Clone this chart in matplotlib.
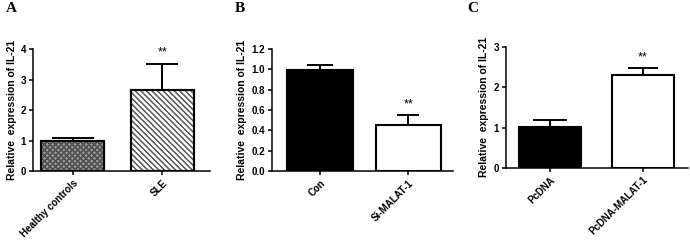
import matplotlib
matplotlib.use("Agg")
import matplotlib.pyplot as plt

plt.rcParams['font.family'] = ['Liberation Sans', 'DejaVu Sans']
plt.rcParams['hatch.linewidth'] = 0.8

# Panel A
a_cats = ["Healthy controls", "SLE"]
a_vals = [0.97, 2.67]
a_err = [0.11, 0.85]
a_ticks = [0, 1, 2, 3, 4]
# Panel B
b_cats = ["Con", "Si-MALAT-1"]
b_vals = [0.99, 0.45]
b_err = [0.05, 0.10]
b_ticks = [0.0, 0.2, 0.4, 0.6, 0.8, 1.0, 1.2]
# Panel C
c_cats = ["PcDNA", "PcDNA-MALAT-1"]
c_vals = [1.02, 2.30]
c_err = [0.18, 0.17]
c_ticks = [0, 1, 2, 3]

fig = plt.figure(figsize=(6.9, 2.43), dpi=100)

def panel(rect, cats, vals, errs, ticks, ylim, xlim, width, faces, hatches, hcolors,
          caps, fmt, letter, lpos):
    ax = fig.add_axes(rect)
    x = list(range(len(cats)))
    for i in x:
        ax.bar(i, vals[i], width=width, color=faces[i], edgecolor='black',
               linewidth=1.5, hatch=hatches[i], zorder=2)
        if hatches[i]:
            ax.bar(i, vals[i], width=width, facecolor='none', edgecolor=hcolors[i],
                   linewidth=0, hatch=hatches[i], zorder=2)
            ax.bar(i, vals[i], width=width, facecolor='none', edgecolor='black',
                   linewidth=1.5, zorder=3)
        ax.errorbar(i, vals[i], yerr=[[0], [errs[i]]], fmt='none', ecolor='black',
                    elinewidth=1.4, capsize=caps[i], capthick=1.4, zorder=1)
    ax.text(1, vals[1] + errs[1] + (ylim[1] - ylim[0]) * 0.04, "**", ha='center',
            va='bottom', fontsize=9)
    ax.set_xlim(*xlim)
    ax.set_ylim(*ylim)
    ax.set_yticks(ticks)
    ax.set_yticklabels([fmt.format(t) for t in ticks], fontsize=7, fontweight='bold')
    ax.set_xticks(x)
    ax.set_xticklabels(cats, rotation=45, ha='right', rotation_mode='anchor',
                       fontsize=7, fontweight='bold')
    ax.tick_params(axis='both', direction='out', length=3, width=1.1, pad=2)
    for s in ['top', 'right']:
        ax.spines[s].set_visible(False)
    for s in ['left', 'bottom']:
        ax.spines[s].set_linewidth(1.1)
    ax.set_ylabel("Relative  expression of IL-21", fontsize=7.5, fontweight='bold', labelpad=3)
    fig.text(lpos[0], lpos[1], letter, fontsize=11, fontweight='bold',
             family='Liberation Serif', ha='left', va='top')
    return ax

panel([0.048, 0.296, 0.256, 0.502], a_cats, a_vals, a_err, a_ticks, (0, 4),
      (-0.44, 1.53), 0.70, ['#9a9a9a', 'white'], ['xxxxxx', '\\\\\\\\\\\\'],
      ['#555555', '#666666'], [15, 11.5], "{:d}", "A", (0.008, 0.99))
panel([0.394, 0.296, 0.263, 0.502], b_cats, b_vals, b_err, b_ticks, (0, 1.2),
      (-0.545, 1.51), 0.74, ['black', 'white'], [None, None], [None, None],
      [9.7, 7.6], "{:.1f}", "B", (0.340, 0.99))
panel([0.733, 0.309, 0.264, 0.498], c_cats, c_vals, c_err, c_ticks, (0, 3),
      (-0.48, 1.49), 0.67, ['black', 'white'], [None, None], [None, None],
      [12, 10.8], "{:d}", "C", (0.677, 0.99))

fig.savefig("out.png", dpi=100)
